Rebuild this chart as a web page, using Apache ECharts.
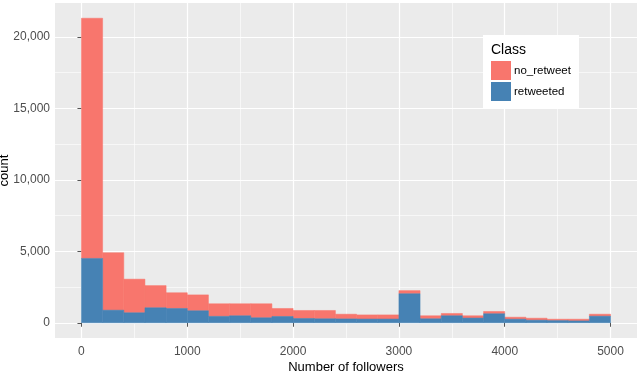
<!DOCTYPE html>
<html>
<head>
<meta charset="utf-8">
<script src="https://cdn.jsdelivr.net/npm/echarts@6/dist/echarts.min.js"></script>
<style>
  html, body { margin: 0; padding: 0; background: #fff; }
  #main { width: 640px; height: 375px; }
</style>
</head>
<body>
<div id="main"></div>
<script>
// histogram bins: start of each 200-wide bin
var binStarts = [0, 200, 400, 600, 800, 1000, 1200, 1400, 1600, 1800, 2000, 2200, 2400,
                 2600, 2800, 3000, 3200, 3400, 3600, 3800, 4000, 4200, 4400, 4600, 4800];
var binWidth = 200;
// counts per bin
var retweeted = [4500, 880, 700, 1050, 1000, 840, 450, 490, 350, 440, 300, 280, 270,
                 260, 260, 2030, 280, 490, 330, 630, 250, 180, 150, 130, 460];
var noRetweet = [16800, 4020, 2350, 1550, 1100, 1110, 880, 840, 980, 560, 560, 580, 330,
                 290, 290, 220, 210, 160, 160, 160, 140, 140, 100, 120, 140];

var xMajor = [0, 1000, 2000, 3000, 4000, 5000];
var xMinor = [500, 1500, 2500, 3500, 4500];
var yMajor = [0, 5000, 10000, 15000, 20000];
var yMinor = [2500, 7500, 12500, 17500];

var red = '#F8766D';
var blue = '#4682B4';

// stacked rects: blue at the bottom, red on top
var blueRects = binStarts.map(function (s, i) {
    return [s, s + binWidth, 0, retweeted[i]];
});
var redRects = binStarts.map(function (s, i) {
    return [s, s + binWidth, retweeted[i], retweeted[i] + noRetweet[i]];
});

function renderBin(params, api) {
    var p0 = api.coord([api.value(0), api.value(2)]);
    var p1 = api.coord([api.value(1), api.value(3)]);
    var color = params.seriesName === 'retweeted' ? blue : red;
    return {
        type: 'rect',
        shape: { x: p0[0], y: p1[1], width: p1[0] - p0[0], height: p0[1] - p1[1] },
        style: { fill: color, stroke: color, lineWidth: 0.5 }
    };
}

var myChart = echarts.init(document.getElementById('main'));

var option = {
    animation: false,
    textStyle: { fontFamily: 'Liberation Sans, Arial, sans-serif' },
    grid: {
        left: 55, right: 3, top: 3, bottom: 37,
        show: true, backgroundColor: '#EBEBEB', borderWidth: 0,
        containLabel: false,
        outerBoundsMode: 'none'
    },
    xAxis: [
        {
            type: 'value', min: -250, max: 5250,
            name: 'Number of followers', nameLocation: 'middle', nameGap: 23,
            nameMoveOverlap: false,
            nameTextStyle: { fontSize: 13, color: '#000' },
            axisLine: { show: false },
            axisTick: { show: true, length: 4, customValues: xMajor, lineStyle: { color: '#555' } },
            axisLabel: {
                customValues: xMajor, fontSize: 12, color: '#4D4D4D', margin: 8,
                formatter: function (v) { return String(v); }
            },
            splitLine: { show: true, lineStyle: { color: '#fff', width: 1.2 } }
        },
        {
            type: 'value', min: -250, max: 5250, position: 'top',
            axisLine: { show: false },
            axisTick: { show: false, customValues: xMinor },
            axisLabel: { show: false, customValues: xMinor },
            splitLine: { show: true, lineStyle: { color: '#fff', width: 0.6 } }
        }
    ],
    yAxis: [
        {
            type: 'value', min: -1065, max: 22365,
            name: 'count', nameLocation: 'middle', nameGap: 44,
            nameMoveOverlap: false,
            nameTextStyle: { fontSize: 13, color: '#000' },
            axisLine: { show: false },
            axisTick: { show: true, length: 4, customValues: yMajor, lineStyle: { color: '#555' } },
            axisLabel: {
                customValues: yMajor, fontSize: 12, color: '#4D4D4D', margin: 5,
                formatter: function (v) { return v.toLocaleString('en-US'); }
            },
            splitLine: { show: true, lineStyle: { color: '#fff', width: 1.2 } }
        },
        {
            type: 'value', min: -1065, max: 22365, position: 'right',
            axisLine: { show: false },
            axisTick: { show: false, customValues: yMinor },
            axisLabel: { show: false, customValues: yMinor },
            splitLine: { show: true, lineStyle: { color: '#fff', width: 0.6 } }
        }
    ],
    legend: {
        data: ['no_retweet', 'retweeted'],
        orient: 'vertical',
        left: 491, top: 61,
        padding: 0,
        itemWidth: 20, itemHeight: 19, itemGap: 2,
        icon: 'rect',
        selectedMode: false,
        z: 110,
        textStyle: { fontSize: 11.5, color: '#000', padding: [0, 0, 0, -2] }
    },
    graphic: [
        {
            type: 'rect', z: 100,
            shape: { x: 483, y: 35, width: 96, height: 73 },
            style: { fill: '#fff' }
        },
        {
            type: 'text', z: 101, left: 491, top: 43,
            style: { text: 'Class', fontSize: 14, fill: '#000', fontFamily: 'Liberation Sans, Arial, sans-serif' }
        }
    ],
    series: [
        {
            name: 'no_retweet', type: 'custom',
            renderItem: renderBin,
            itemStyle: { color: red },
            encode: { x: [0, 1], y: [2, 3] },
            data: redRects,
            silent: true
        },
        {
            name: 'retweeted', type: 'custom',
            renderItem: renderBin,
            itemStyle: { color: blue },
            encode: { x: [0, 1], y: [2, 3] },
            data: blueRects,
            silent: true
        }
    ]
};

myChart.setOption(option);
</script>
</body>
</html>
